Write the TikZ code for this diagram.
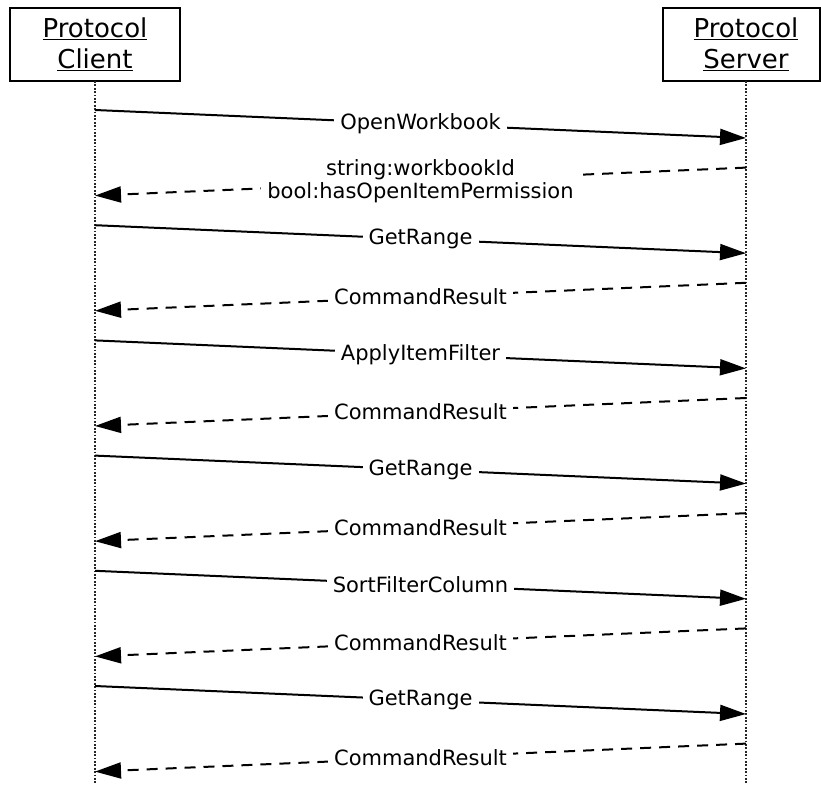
\documentclass[tikz,border=0pt]{standalone}
\usepackage{fontspec}
\setmainfont{DejaVu Sans}
\usetikzlibrary{arrows.meta}
\newcommand\ulword[1]{\setbox0\hbox{#1}\rlap{\rule[-3pt]{\wd0}{1.6pt}}\box0}
\begin{document}
\begin{tikzpicture}[x=1pt,y=-1pt,
  box/.style={draw, line width=2pt, minimum height=73pt, inner sep=0pt},
  head/.style={font=\fontsize{26}{31}\selectfont, align=center},
  life/.style={line width=1.8pt, dash pattern=on 1.8pt off 1.6pt, black!85},
  call/.style={line width=2pt, -{Triangle[length=26pt,width=16pt]}},
  reply/.style={call, dash pattern=on 11pt off 8pt},
  lbl/.style={fill=white, font=\fontsize{21}{23}\selectfont, inner xsep=6pt, inner ysep=1pt, align=center}]
\useasboundingbox (0,0) rectangle (821,784);
% headers
\node[box, head, minimum width=170pt] (client) at (95,44.5) {\ulword{Protocol}\\\ulword{Client}};
\node[box, minimum width=157pt] (serverbox) at (741.5,44.5) {};
\node[head, inner sep=0pt] (server) at (746,44.5) {\ulword{Protocol}\\\ulword{Server}};
% lifelines
\coordinate (ctop) at (95,81);
\coordinate (cbot) at (95,784);
\coordinate (stop) at (746,81);
\coordinate (sbot) at (746,784);
\draw[life] (ctop) -- (cbot);
\draw[life] (stop) -- (sbot);
% message end points
\coordinate (c0) at (95,110);    \coordinate (s0) at (746,138);
\coordinate (s1) at (746,167.6); \coordinate (c1) at (95,195.6);
\coordinate (c2) at (95,225.2);  \coordinate (s2) at (746,253.2);
\coordinate (s3) at (746,282.8); \coordinate (c3) at (95,310.8);
\coordinate (c4) at (95,340.4);  \coordinate (s4) at (746,368.4);
\coordinate (s5) at (746,398);   \coordinate (c5) at (95,426);
\coordinate (c6) at (95,455.6);  \coordinate (s6) at (746,483.6);
\coordinate (s7) at (746,513.2); \coordinate (c7) at (95,541.2);
\coordinate (c8) at (95,570.8);  \coordinate (s8) at (746,598.8);
\coordinate (s9) at (746,628.4); \coordinate (c9) at (95,656.4);
\coordinate (c10) at (95,686);   \coordinate (s10) at (746,714);
\coordinate (s11) at (746,743.6);\coordinate (c11) at (95,771.6);
% messages
\draw[call] (c0) -- node[lbl] (m0) {OpenWorkbook} (s0);
\draw[reply] (s1) -- node[lbl] (m1) {string:workbookId\\bool:hasOpenItemPermission} (c1);
\draw[call] (c2) -- node[lbl] (m2) {GetRange} (s2);
\draw[reply] (s3) -- node[lbl] (m3) {CommandResult} (c3);
\draw[call] (c4) -- node[lbl] (m4) {ApplyItemFilter} (s4);
\draw[reply] (s5) -- node[lbl] (m5) {CommandResult} (c5);
\draw[call] (c6) -- node[lbl] (m6) {GetRange} (s6);
\draw[reply] (s7) -- node[lbl] (m7) {CommandResult} (c7);
\draw[call] (c8) -- node[lbl] (m8) {SortFilterColumn} (s8);
\draw[reply] (s9) -- node[lbl] (m9) {CommandResult} (c9);
\draw[call] (c10) -- node[lbl] (m10) {GetRange} (s10);
\draw[reply] (s11) -- node[lbl] (m11) {CommandResult} (c11);
\end{tikzpicture}
\end{document}
